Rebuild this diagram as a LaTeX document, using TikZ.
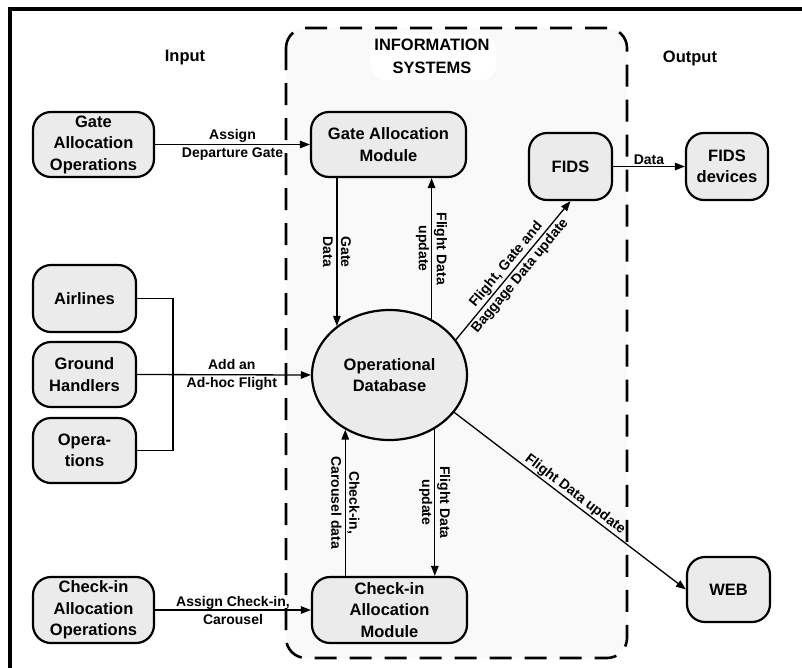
\documentclass[tikz,border=0pt]{standalone}
\usepackage{fontspec}
\setmainfont{Liberation Sans}
\usetikzlibrary{arrows.meta,shapes.geometric}
\begin{document}
\begin{tikzpicture}[x=1pt,y=-1pt,
  box/.style={draw, line width=2.2pt, fill=black!8, rounded corners=18pt,
    align=center, inner sep=2pt,
    font=\fontsize{16.5}{21.5}\selectfont\bfseries},
  lbl/.style={font=\fontsize{14}{18}\selectfont\bfseries, align=center, inner sep=1pt},
  title/.style={font=\fontsize{16.5}{23}\selectfont\bfseries, align=center},
  conn/.style={line width=1.3pt},
  arr/.style={line width=1.3pt, -{Triangle[length=10pt,width=7.5pt]}}]
\useasboundingbox (0,0) rectangle (802,667);

% outer frame, running past the right and bottom edges
\begin{scope}
  \clip (0,0) rectangle (802,667);
  \draw[line width=3.5pt] (10,9) rectangle (840,700);
\end{scope}

% information systems container
\fill[black!2.5, rounded corners=20pt] (286,28) rectangle (627,658);
\fill[white, rounded corners=14pt] (370,34) rectangle (496,80);
\draw[line width=2.6pt, dash pattern=on 22pt off 13pt,
      rounded corners=20pt] (286,28) rectangle (627,658);

% column titles
\node[title] (tin) at (185,58) {Input};
\node[title] (tout) at (690,58) {Output};
\node[title] (tis) at (432,56) {INFORMATION\\SYSTEMS};

% input side
\node[box, minimum width=121pt, minimum height=65pt] (gao) at (93.5,144.5)
  {Gate\\Allocation\\Operations};
\node[box, minimum width=103pt, minimum height=67pt] (air) at (84.5,298.5) {Airlines};
\node[box, minimum width=103pt, minimum height=65pt] (gh) at (84.5,374.5) {Ground\\Handlers};
\node[box, minimum width=103pt, minimum height=65pt] (ops) at (84.5,450.5) {Opera-\\tions};
\node[box, minimum width=121pt, minimum height=66pt] (cao) at (93.5,610)
  {Check-in\\Allocation\\Operations};

% information systems
\node[box, minimum width=155pt, minimum height=65pt] (gam) at (388.5,144.5)
  {Gate Allocation\\Module};
\node[draw, ellipse, line width=2.2pt, fill=black!8, minimum width=155pt,
      minimum height=130pt, align=center, inner sep=0pt,
      font=\fontsize{16.5}{21.5}\selectfont\bfseries] (db) at (389.5,375)
  {Operational\\Database};
\node[box, minimum width=155pt, minimum height=66pt] (cam) at (389.5,610)
  {Check-in\\Allocation\\Module};
\node[box, minimum width=83pt, minimum height=67pt] (fids) at (570.5,166.5) {FIDS};

% output side
\node[box, minimum width=82pt, minimum height=67pt] (fdev) at (727,166.5) {FIDS\\devices};
\node[box, minimum width=83pt, minimum height=65pt] (web) at (728.5,589.5) {WEB};

% input flows
\draw[arr] (gao.east) -- (gam.west)
  node[lbl, midway] {Assign\\Departure Gate};
\coordinate (bx) at (173,0);
\draw[conn] (air.east) -| (bx |- ops.east) -- (ops.east);
\draw[arr] (gh.east) -- (db.west)
  node[lbl, pos=0.545] {Add an\\Ad-hoc Flight};
\draw[arr] (cao.east) -- (cam.west)
  node[lbl, midway] {Assign Check-in,\\Carousel};

% exchanges with the operational database
\draw[arr] (gam.south -| db.137.2) -- (db.137.2)
  node[lbl, midway, rotate=-90] {Gate\\Data};
\draw[arr] (db.53.4) -- (gam.south -| db.53.4)
  node[lbl, midway, rotate=-90] {Flight Data\\update};
\draw[arr] (cam.north -| db.231.5) -- (db.231.5)
  node[lbl, midway, rotate=-90] {Check-in,\\Carousel data};
\draw[arr] (db.310.4) -- (cam.north -| db.310.4)
  node[lbl, midway, rotate=-90] {Flight Data\\update};

% output flows
\draw[arr] (db.28) -- (fids.south)
  node[lbl, midway, sloped] {Flight, Gate and\\Baggage Data update};
\draw[arr] (fids.east) -- (fdev.west)
  node[lbl, midway, above] {Data};
\draw[arr] (db.330) -- (web.west)
  node[lbl, midway, sloped, above] {Flight Data update};
\end{tikzpicture}
\end{document}
